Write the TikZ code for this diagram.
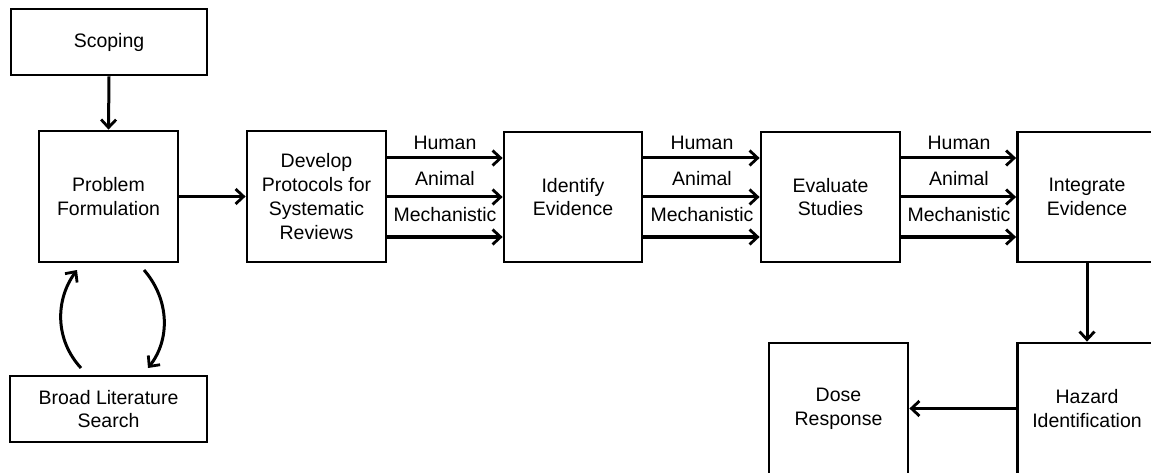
\documentclass[tikz,border=0pt]{standalone}
\usepackage{fontspec}
\setmainfont{Liberation Sans}
\usetikzlibrary{arrows.meta}
\begin{document}
\begin{tikzpicture}[x=1pt,y=-1pt,
  box/.style={draw,line width=2.8pt,rectangle,align=center,inner sep=0pt,
    font=\fontsize{19.5}{23.7}\selectfont},
  flow/.style={line width=3pt,-{Straight Barb[length=8pt,width=15pt,line width=2.8pt]}},
  lbl/.style={font=\fontsize{19.5}{23.7}\selectfont,inner sep=0pt}]
\clip (0,0) rectangle (1151,473);
\fill[white] (0,0) rectangle (1151,473);
\node[box,minimum width=196pt,minimum height=66pt] (scope) at (109,42) {Scoping};
\node[box,minimum width=139pt,minimum height=131pt] (pf) at (108.5,196.5) {Problem\\Formulation};
\node[box,minimum width=197pt,minimum height=66pt] (bls) at (108.5,409) {Broad Literature\\Search};
\node[box,minimum width=139pt,minimum height=131pt] (dp) at (316.5,196.5) {Develop\\Protocols for\\Systematic\\Reviews};
\node[box,minimum width=138pt,minimum height=130pt] (ie) at (573,197) {Identify\\Evidence};
\node[box,minimum width=139pt,minimum height=130pt] (es) at (830.5,197) {Evaluate\\Studies};
\node[box,minimum width=139pt,minimum height=130pt] (ig) at (1087,197) {Integrate\\Evidence};
\node[box,minimum width=139pt,minimum height=131pt] (hz) at (1087,408.5) {Hazard\\Identification};
\node[box,minimum width=139pt,minimum height=131pt] (dr) at (838.5,408.5) {Dose\\Response};

\draw[flow] (scope.south) -- (pf.north);
\draw[flow] (pf.east) -- (dp.west);
\draw[flow] (ig.south) -- (hz.north);
\draw[flow] (hz.west) -- (dr.east);

\coordinate (l1) at (81,368);
\coordinate (l2) at (77,270);
\coordinate (r1) at (144,270);
\coordinate (r2) at (148,368);
\draw[flow] (l1) .. controls (55,340) and (55,300) .. (l2);
\draw[flow] (r1) .. controls (170,300) and (170,340) .. (r2);

\foreach \a/\b/\m in {dp/ie/445, ie/es/702, es/ig/959}{
  \draw[flow] (\a.east |- 0,158) -- (\b.west |- 0,158);
  \draw[flow] (\a.east |- 0,197) -- (\b.west |- 0,197);
  \draw[flow] (\a.east |- 0,237) -- (\b.west |- 0,237);
  \node[lbl] (h\a) at (\m,143) {Human};
  \node[lbl] (an\a) at (\m,179) {Animal};
  \node[lbl] (me\a) at (\m,215) {Mechanistic};
}
\end{tikzpicture}
\end{document}
